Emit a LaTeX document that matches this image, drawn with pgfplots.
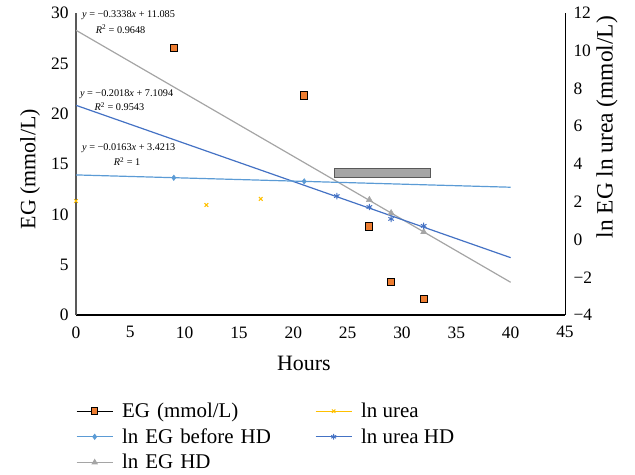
\documentclass[border=0pt]{standalone}
\usepackage{pgfplots}
\pgfplotsset{compat=1.18}
\usepackage{fontspec}
\setmainfont{Liberation Serif}

\definecolor{egorange}{RGB}{237,125,49}
\definecolor{lblue}{RGB}{91,155,213}
\definecolor{dblue}{RGB}{68,114,196}
\definecolor{lgray}{RGB}{165,165,165}
\definecolor{uyellow}{RGB}{255,192,0}
\definecolor{axgray}{RGB}{89,89,89}

\begin{document}
\begin{tikzpicture}
\path[use as bounding box] (-76bp,-160bp) rectangle (559bp,315bp);

\begin{axis}[
  scale only axis, width=489bp, height=302bp,
  xmin=0, xmax=45, ymin=0, ymax=30,
  xtick={0,5,...,45}, ytick={0,5,...,30},
  axis x line*=bottom, axis y line*=left,
  x axis line style={black, line width=1.3bp, -},
  y axis line style={axgray, line width=1.8bp, -},
  major tick length=0pt,
  /pgf/number format/assume math mode=true,
  tick label style={font=\fontsize{17.5}{20}\selectfont},
  xticklabel style={yshift=-8bp},
  yticklabel style={xshift=-4bp},
  label style={font=\fontsize{22}{26}\selectfont},
  xlabel={Hours}, ylabel={EG (mmol/L)},
  every axis x label/.append style={at={(axis description cs:0.466,-0.159)}, anchor=center},
  every axis y label/.append style={at={(axis description cs:-0.094,0.483)}, anchor=center},
  clip=false,
]
\addplot[only marks, mark=square*, mark size=3.6bp,
  mark options={fill=egorange, draw=black, line width=1bp}]
  coordinates {(9,26.5) (21,21.8) (27,8.8) (29,3.3) (32,1.6)};
\fill[lgray, draw=axgray, line width=0.6bp] (axis cs:23.8,14.55) rectangle (axis cs:32.6,13.65);
\node[anchor=west, font=\fontsize{10.3}{12}\selectfont, inner sep=0pt] at (axis cs:0.55,29.8)
  {\textit{y} = −0.3338\textit{x} + 11.085};
\node[font=\fontsize{10.3}{12}\selectfont, inner sep=0pt] at (axis cs:4.1,28.4)
  {\textit{R}\textsuperscript{2} = 0.9648};
\node[anchor=west, font=\fontsize{10.3}{12}\selectfont, inner sep=0pt] at (axis cs:0.35,21.9)
  {\textit{y} = −0.2018\textit{x} + 7.1094};
\node[font=\fontsize{10.3}{12}\selectfont, inner sep=0pt] at (axis cs:4.0,20.7)
  {\textit{R}\textsuperscript{2} = 0.9543};
\node[anchor=west, font=\fontsize{10.3}{12}\selectfont, inner sep=0pt] at (axis cs:0.55,16.55)
  {\textit{y} = −0.0163\textit{x} + 3.4213};
\node[font=\fontsize{10.3}{12}\selectfont, inner sep=0pt] at (axis cs:4.7,15.25)
  {\textit{R}\textsuperscript{2} = 1};
\end{axis}

\begin{axis}[
  scale only axis, width=489bp, height=302bp,
  xmin=0, xmax=45, ymin=-4, ymax=12,
  ytick={-4,-2,...,12},
  yticklabels={−4,−2,0,2,4,6,8,10,12},
  axis x line=none, axis y line*=right,
  y axis line style={black, line width=0.8bp, -},
  major tick length=0pt,
  tick label style={font=\fontsize{17.5}{20}\selectfont},
  yticklabel style={xshift=5bp},
  label style={font=\fontsize{23.5}{26}\selectfont},
  ylabel={ln EG ln urea (mmol/L)},
  every axis y label/.append style={at={(axis description cs:1.086,0.622)}, anchor=center},
  legend columns=2,
  legend style={draw=none, fill=none, at={(0,0)}, anchor=north west,
    xshift=-3bp, yshift=-84bp, font=\fontsize{21}{25}\selectfont,
    row sep=5.5bp, cells={anchor=west},
    /tikz/column 2/.style={text width=198bp}},
  legend image code/.code={%
    \draw[mark repeat=2, mark phase=2] plot coordinates {(0bp,0bp) (18bp,0bp) (36bp,0bp)};},
]
% trendlines
\addplot[forget plot, lgray, line width=1.2bp] coordinates {(0,11.085) (40,-2.267)};
\addplot[forget plot, dblue, line width=1.2bp] coordinates {(0,7.1094) (40,-0.9626)};
\addplot[forget plot, lblue, line width=1.2bp] coordinates {(0,3.4213) (40,2.7693)};
% series markers
\addplot[forget plot, only marks, mark=diamond*, mark size=2.8bp, lblue]
  coordinates {(9,3.27) (21,3.08)};
\addplot[forget plot, only marks, mark=triangle*, mark size=3.6bp, lgray]
  coordinates {(27,2.1) (29,1.4) (32,0.4)};
\addplot[forget plot, only marks, mark=x, mark size=2.6bp, uyellow, line width=1bp]
  coordinates {(0,2.04) (12,1.83) (17,2.15)};
\addplot[forget plot, only marks, mark=asterisk, mark size=3.2bp, dblue, line width=1bp]
  coordinates {(24,2.3) (27,1.72) (29,1.09) (32,0.72)};
% legend
\addlegendimage{black, line width=1bp, mark=square*, mark size=3.2bp, mark options={fill=egorange, draw=black}}
\addlegendentry{\hspace{7bp}EG (mmol/L)}
\addlegendimage{uyellow, line width=1bp, mark=x, mark size=2.4bp}
\addlegendentry{\hspace{7bp}ln urea}
\addlegendimage{lblue, line width=1bp, mark=diamond*, mark size=2.4bp}
\addlegendentry{\hspace{7bp}ln EG before HD}
\addlegendimage{dblue, line width=1bp, mark=asterisk, mark size=2.8bp}
\addlegendentry{\hspace{7bp}ln urea HD}
\addlegendimage{lgray, line width=1bp, mark=triangle*, mark size=2.8bp}
\addlegendentry{\hspace{7bp}ln EG HD}
\end{axis}
\end{tikzpicture}
\end{document}
